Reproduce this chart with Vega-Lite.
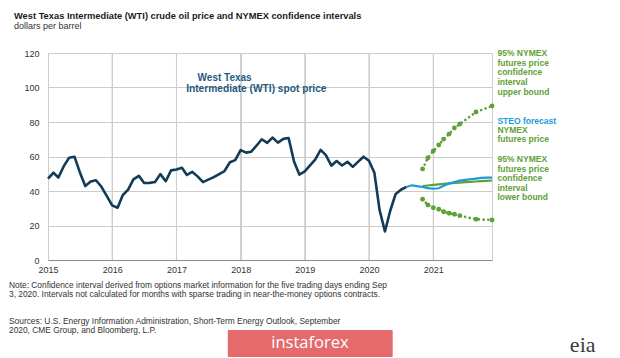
{
  "$schema": "https://vega.github.io/schema/vega-lite/v6.json",
  "width": 444,
  "height": 207,
  "autosize": {"type": "none"},
  "padding": {"left": 48, "top": 53, "right": 128, "bottom": 98},
  "background": "white",
  "config": {
    "font": "Liberation Sans",
    "view": {"stroke": "#d0d0d0", "strokeWidth": 1},
    "axis": {"labelFont": "Liberation Sans", "labelFontSize": 9, "labelColor": "#333333", "gridColor": "#cccccc", "gridWidth": 1, "grid": true, "ticks": false, "title": null, "labelOverlap": false},
    "axisX": {"tickCount": {"interval": "year", "step": 1}, "grid": true, "domainColor": "#8c8c8c", "labelPadding": 5, "labelAlign": "center"},
    "axisY": {"tickCount": 6, "domain": false, "labelPadding": 9}
  },
  "title": {
    "text": "West Texas Intermediate (WTI) crude oil price and NYMEX confidence intervals",
    "subtitle": "dollars per barrel",
    "anchor": "start",
    "frame": "group",
    "dx": -34,
    "offset": 18,
    "font": "Liberation Sans",
    "fontSize": 9.3,
    "fontWeight": "bold",
    "color": "#1a1a1a",
    "subtitleFont": "Liberation Sans",
    "subtitleFontSize": 9,
    "subtitleColor": "#333333",
    "subtitlePadding": 1
  },
  "datasets": {
    "years": [
      {"date": "2016-01-01"}, {"date": "2017-01-01"}, {"date": "2018-01-01"}, {"date": "2019-01-01"}, {"date": "2020-01-01"}, {"date": "2021-01-01"}
    ],
    "prices": [
      {"date": "2015-01-01", "series": "WTI", "value": 47.22}, {"date": "2015-02-01", "series": "WTI", "value": 50.58}, {"date": "2015-03-01", "series": "WTI", "value": 47.82}, {"date": "2015-04-01", "series": "WTI", "value": 54.45}, {"date": "2015-05-01", "series": "WTI", "value": 59.27}, {"date": "2015-06-01", "series": "WTI", "value": 59.82}, {"date": "2015-07-01", "series": "WTI", "value": 50.9}, {"date": "2015-08-01", "series": "WTI", "value": 42.87}, {"date": "2015-09-01", "series": "WTI", "value": 45.48}, {"date": "2015-10-01", "series": "WTI", "value": 46.22}, {"date": "2015-11-01", "series": "WTI", "value": 42.44}, {"date": "2015-12-01", "series": "WTI", "value": 37.19},
      {"date": "2016-01-01", "series": "WTI", "value": 31.68}, {"date": "2016-02-01", "series": "WTI", "value": 30.32}, {"date": "2016-03-01", "series": "WTI", "value": 37.55}, {"date": "2016-04-01", "series": "WTI", "value": 40.75}, {"date": "2016-05-01", "series": "WTI", "value": 46.71}, {"date": "2016-06-01", "series": "WTI", "value": 48.76}, {"date": "2016-07-01", "series": "WTI", "value": 44.65}, {"date": "2016-08-01", "series": "WTI", "value": 44.72}, {"date": "2016-09-01", "series": "WTI", "value": 45.18}, {"date": "2016-10-01", "series": "WTI", "value": 49.78}, {"date": "2016-11-01", "series": "WTI", "value": 45.66}, {"date": "2016-12-01", "series": "WTI", "value": 51.97},
      {"date": "2017-01-01", "series": "WTI", "value": 52.5}, {"date": "2017-02-01", "series": "WTI", "value": 53.47}, {"date": "2017-03-01", "series": "WTI", "value": 49.33}, {"date": "2017-04-01", "series": "WTI", "value": 51.06}, {"date": "2017-05-01", "series": "WTI", "value": 48.48}, {"date": "2017-06-01", "series": "WTI", "value": 45.18}, {"date": "2017-07-01", "series": "WTI", "value": 46.63}, {"date": "2017-08-01", "series": "WTI", "value": 48.04}, {"date": "2017-09-01", "series": "WTI", "value": 49.82}, {"date": "2017-10-01", "series": "WTI", "value": 51.58}, {"date": "2017-11-01", "series": "WTI", "value": 56.64}, {"date": "2017-12-01", "series": "WTI", "value": 57.88},
      {"date": "2018-01-01", "series": "WTI", "value": 63.7}, {"date": "2018-02-01", "series": "WTI", "value": 62.23}, {"date": "2018-03-01", "series": "WTI", "value": 62.73}, {"date": "2018-04-01", "series": "WTI", "value": 66.25}, {"date": "2018-05-01", "series": "WTI", "value": 69.98}, {"date": "2018-06-01", "series": "WTI", "value": 67.87}, {"date": "2018-07-01", "series": "WTI", "value": 70.98}, {"date": "2018-08-01", "series": "WTI", "value": 68.06}, {"date": "2018-09-01", "series": "WTI", "value": 70.23}, {"date": "2018-10-01", "series": "WTI", "value": 70.75}, {"date": "2018-11-01", "series": "WTI", "value": 56.96}, {"date": "2018-12-01", "series": "WTI", "value": 49.52},
      {"date": "2019-01-01", "series": "WTI", "value": 51.38}, {"date": "2019-02-01", "series": "WTI", "value": 54.95}, {"date": "2019-03-01", "series": "WTI", "value": 58.15}, {"date": "2019-04-01", "series": "WTI", "value": 63.86}, {"date": "2019-05-01", "series": "WTI", "value": 60.83}, {"date": "2019-06-01", "series": "WTI", "value": 54.66}, {"date": "2019-07-01", "series": "WTI", "value": 57.35}, {"date": "2019-08-01", "series": "WTI", "value": 54.81}, {"date": "2019-09-01", "series": "WTI", "value": 56.95}, {"date": "2019-10-01", "series": "WTI", "value": 53.96}, {"date": "2019-11-01", "series": "WTI", "value": 57.03}, {"date": "2019-12-01", "series": "WTI", "value": 59.88},
      {"date": "2020-01-01", "series": "WTI", "value": 57.52}, {"date": "2020-02-01", "series": "WTI", "value": 50.54}, {"date": "2020-03-01", "series": "WTI", "value": 29.21}, {"date": "2020-04-01", "series": "WTI", "value": 16.55}, {"date": "2020-05-01", "series": "WTI", "value": 28.56}, {"date": "2020-06-01", "series": "WTI", "value": 38.31}, {"date": "2020-07-01", "series": "WTI", "value": 40.71}, {"date": "2020-08-01", "series": "WTI", "value": 42.34},
      {"date": "2020-08-01", "series": "STEO", "value": 42.34}, {"date": "2020-09-01", "series": "STEO", "value": 43.3}, {"date": "2020-10-01", "series": "STEO", "value": 42.8}, {"date": "2020-11-01", "series": "STEO", "value": 42.3}, {"date": "2020-12-01", "series": "STEO", "value": 41.7}, {"date": "2021-01-01", "series": "STEO", "value": 41.3}, {"date": "2021-02-01", "series": "STEO", "value": 41.6}, {"date": "2021-03-01", "series": "STEO", "value": 43.0}, {"date": "2021-04-01", "series": "STEO", "value": 44.3}, {"date": "2021-05-01", "series": "STEO", "value": 45.2}, {"date": "2021-06-01", "series": "STEO", "value": 46.0}, {"date": "2021-07-01", "series": "STEO", "value": 46.4}, {"date": "2021-08-01", "series": "STEO", "value": 46.8}, {"date": "2021-09-01", "series": "STEO", "value": 47.2}, {"date": "2021-10-01", "series": "STEO", "value": 47.6}, {"date": "2021-11-01", "series": "STEO", "value": 47.7}, {"date": "2021-12-01", "series": "STEO", "value": 47.7},
      {"date": "2020-11-01", "series": "Futures", "value": 42.9}, {"date": "2020-12-01", "series": "Futures", "value": 43.2}, {"date": "2021-01-01", "series": "Futures", "value": 43.5}, {"date": "2021-02-01", "series": "Futures", "value": 43.8}, {"date": "2021-03-01", "series": "Futures", "value": 44.1}, {"date": "2021-04-01", "series": "Futures", "value": 44.4}, {"date": "2021-05-01", "series": "Futures", "value": 44.7}, {"date": "2021-06-01", "series": "Futures", "value": 44.9}, {"date": "2021-07-01", "series": "Futures", "value": 45.1}, {"date": "2021-08-01", "series": "Futures", "value": 45.3}, {"date": "2021-09-01", "series": "Futures", "value": 45.5}, {"date": "2021-10-01", "series": "Futures", "value": 45.7}, {"date": "2021-11-01", "series": "Futures", "value": 45.9}, {"date": "2021-12-01", "series": "Futures", "value": 46.1},
      {"date": "2020-11-01", "series": "Upper", "value": 52.8}, {"date": "2020-12-01", "series": "Upper", "value": 59.1}, {"date": "2021-01-01", "series": "Upper", "value": 63.2}, {"date": "2021-02-01", "series": "Upper", "value": 66.7}, {"date": "2021-03-01", "series": "Upper", "value": 70.1}, {"date": "2021-04-01", "series": "Upper", "value": 73.0}, {"date": "2021-05-01", "series": "Upper", "value": 76.5}, {"date": "2021-06-01", "series": "Upper", "value": 78.8}, {"date": "2021-09-01", "series": "Upper", "value": 85.8}, {"date": "2021-12-01", "series": "Upper", "value": 89.3},
      {"date": "2020-11-01", "series": "Lower", "value": 35.2}, {"date": "2020-12-01", "series": "Lower", "value": 31.9}, {"date": "2021-01-01", "series": "Lower", "value": 30.3}, {"date": "2021-02-01", "series": "Lower", "value": 29.4}, {"date": "2021-03-01", "series": "Lower", "value": 28.0}, {"date": "2021-04-01", "series": "Lower", "value": 27.1}, {"date": "2021-05-01", "series": "Lower", "value": 26.5}, {"date": "2021-06-01", "series": "Lower", "value": 25.7}, {"date": "2021-09-01", "series": "Lower", "value": 23.6}, {"date": "2021-12-01", "series": "Lower", "value": 23.2}
    ]
  },
  "layer": [
    {
      "data": {"name": "years"},
      "mark": {"type": "rule", "color": "#cdcdcd", "strokeWidth": 1.1},
      "encoding": {
        "x": {"field": "date", "type": "temporal", "scale": {"type": "utc", "domain": [{"year": 2015, "month": 1, "date": 1, "utc": true}, {"year": 2021, "month": 12, "date": 1, "utc": true}]}, "axis": {"grid": true}}
      }
    },
    {
      "data": {"name": "prices"},
      "transform": [{"filter": "datum.series === 'WTI'"}],
      "mark": {"type": "line", "color": "#123b58", "strokeWidth": 2.6, "strokeJoin": "round"},
      "encoding": {
        "x": {"field": "date", "type": "temporal"},
        "y": {"field": "value", "type": "quantitative", "scale": {"domain": [0, 120], "nice": false}, "axis": {"grid": true}}
      }
    },
    {
      "data": {"name": "prices"},
      "transform": [{"filter": "datum.series === 'Futures'"}],
      "mark": {"type": "line", "color": "#5ea135", "strokeWidth": 2.2},
      "encoding": {"x": {"field": "date", "type": "temporal"}, "y": {"field": "value", "type": "quantitative"}}
    },
    {
      "data": {"name": "prices"},
      "transform": [{"filter": "datum.series === 'STEO'"}],
      "mark": {"type": "line", "color": "#1c9ad8", "strokeWidth": 2.2},
      "encoding": {"x": {"field": "date", "type": "temporal"}, "y": {"field": "value", "type": "quantitative"}}
    },
    {
      "data": {"name": "prices"},
      "transform": [{"filter": "datum.series === 'Upper' || datum.series === 'Lower'"}],
      "mark": {"type": "line", "color": "#5ea135", "strokeWidth": 2.6, "strokeDash": [0.1, 4.6], "strokeCap": "round"},
      "encoding": {"x": {"field": "date", "type": "temporal"}, "y": {"field": "value", "type": "quantitative"}, "detail": {"field": "series"}}
    },
    {
      "data": {"name": "prices"},
      "transform": [{"filter": "datum.series === 'Upper' || datum.series === 'Lower'"}],
      "mark": {"type": "point", "filled": true, "color": "#5ea135", "size": 24, "opacity": 1},
      "encoding": {"x": {"field": "date", "type": "temporal"}, "y": {"field": "value", "type": "quantitative"}}
    },
    {
      "data": {"values": [{"label": "West Texas"}]},
      "mark": {"type": "text", "align": "left", "baseline": "alphabetic", "font": "Liberation Sans", "fontSize": 10, "fontWeight": "bold", "color": "#1f5a7e"},
      "encoding": {"x": {"datum": {"year": 2017, "month": 5, "date": 1, "utc": true}, "type": "temporal"}, "y": {"datum": 103.8, "type": "quantitative"}, "text": {"field": "label"}}
    },
    {
      "data": {"values": [{"label": "Intermediate (WTI) spot price"}]},
      "mark": {"type": "text", "align": "left", "baseline": "alphabetic", "font": "Liberation Sans", "fontSize": 10.2, "fontWeight": "bold", "color": "#1f5a7e"},
      "encoding": {"x": {"datum": {"year": 2017, "month": 2, "date": 25, "utc": true}, "type": "temporal"}, "y": {"datum": 97.2, "type": "quantitative"}, "text": {"field": "label"}}
    },
    {
      "data": {"values": [{"label": "95% NYMEX\nfutures price\nconfidence\ninterval\nupper bound"}]},
      "mark": {"type": "text", "align": "left", "baseline": "alphabetic", "lineBreak": "\n", "lineHeight": 9.6, "font": "Liberation Sans", "fontSize": 8.5, "fontWeight": "bold", "color": "#5ea135"},
      "encoding": {"x": {"datum": {"year": 2022, "month": 1, "date": 1, "utc": true}, "type": "temporal"}, "y": {"datum": 118.1, "type": "quantitative"}, "text": {"field": "label"}}
    },
    {
      "data": {"values": [{"label": "STEO forecast"}]},
      "mark": {"type": "text", "align": "left", "baseline": "alphabetic", "font": "Liberation Sans", "fontSize": 8.5, "fontWeight": "bold", "color": "#1c9ad8"},
      "encoding": {"x": {"datum": {"year": 2022, "month": 1, "date": 1, "utc": true}, "type": "temporal"}, "y": {"datum": 79.0, "type": "quantitative"}, "text": {"field": "label"}}
    },
    {
      "data": {"values": [{"label": "NYMEX\nfutures price"}]},
      "mark": {"type": "text", "align": "left", "baseline": "alphabetic", "lineBreak": "\n", "lineHeight": 9.4, "font": "Liberation Sans", "fontSize": 8.5, "fontWeight": "bold", "color": "#5ea135"},
      "encoding": {"x": {"datum": {"year": 2022, "month": 1, "date": 1, "utc": true}, "type": "temporal"}, "y": {"datum": 73.6, "type": "quantitative"}, "text": {"field": "label"}}
    },
    {
      "data": {"values": [{"label": "95% NYMEX\nfutures price\nconfidence\ninterval\nlower bound"}]},
      "mark": {"type": "text", "align": "left", "baseline": "alphabetic", "lineBreak": "\n", "lineHeight": 9.5, "font": "Liberation Sans", "fontSize": 8.5, "fontWeight": "bold", "color": "#5ea135"},
      "encoding": {"x": {"datum": {"year": 2022, "month": 1, "date": 1, "utc": true}, "type": "temporal"}, "y": {"datum": 56.8, "type": "quantitative"}, "text": {"field": "label"}}
    },
    {
      "data": {"values": [{"label": "Note: Confidence interval derived from options market information for the five trading days ending Sep\n3, 2020. Intervals not calculated for months with sparse trading in near-the-money options contracts."}]},
      "mark": {"type": "text", "align": "left", "baseline": "alphabetic", "lineBreak": "\n", "lineHeight": 9.5, "font": "Liberation Sans", "fontSize": 8.4, "color": "#333333"},
      "encoding": {"x": {"datum": {"year": 2014, "month": 5, "date": 24, "utc": true}, "type": "temporal"}, "y": {"datum": -16.2, "type": "quantitative"}, "text": {"field": "label"}}
    },
    {
      "data": {"values": [{"label": "Sources: U.S. Energy Information Administration, Short-Term Energy Outlook, September\n2020, CME Group, and Bloomberg, L.P."}]},
      "mark": {"type": "text", "align": "left", "baseline": "alphabetic", "lineBreak": "\n", "lineHeight": 9.8, "font": "Liberation Sans", "fontSize": 8.4, "color": "#333333"},
      "encoding": {"x": {"datum": {"year": 2014, "month": 5, "date": 24, "utc": true}, "type": "temporal"}, "y": {"datum": -36.9, "type": "quantitative"}, "text": {"field": "label"}}
    },
    {
      "data": {"values": [{"label": "instaforex"}]},
      "mark": {"type": "rect", "color": "#e46a6c", "cornerRadius": 1},
      "encoding": {"x": {"datum": {"year": 2017, "month": 10, "date": 20, "utc": true}, "type": "temporal"}, "x2": {"datum": {"year": 2020, "month": 5, "date": 15, "utc": true}}, "y": {"datum": -40.6, "type": "quantitative"}, "y2": {"datum": -56.2}}
    },
    {
      "data": {"values": [{"label": "instaforex"}]},
      "mark": {"type": "text", "align": "center", "baseline": "middle", "font": "Open Sans", "fontSize": 16.5, "color": "#ffffff"},
      "encoding": {"x": {"datum": {"year": 2019, "month": 1, "date": 30, "utc": true}, "type": "temporal"}, "y": {"datum": -48.4, "type": "quantitative"}, "text": {"field": "label"}}
    },
    {
      "data": {"values": [{"label": "eia"}]},
      "mark": {"type": "text", "align": "center", "baseline": "alphabetic", "font": "Liberation Serif", "fontSize": 22, "color": "#3a3a3a"},
      "encoding": {"x": {"datum": {"year": 2023, "month": 5, "date": 1, "utc": true}, "type": "temporal"}, "y": {"datum": -53.5, "type": "quantitative"}, "text": {"field": "label"}}
    }
  ]
}
